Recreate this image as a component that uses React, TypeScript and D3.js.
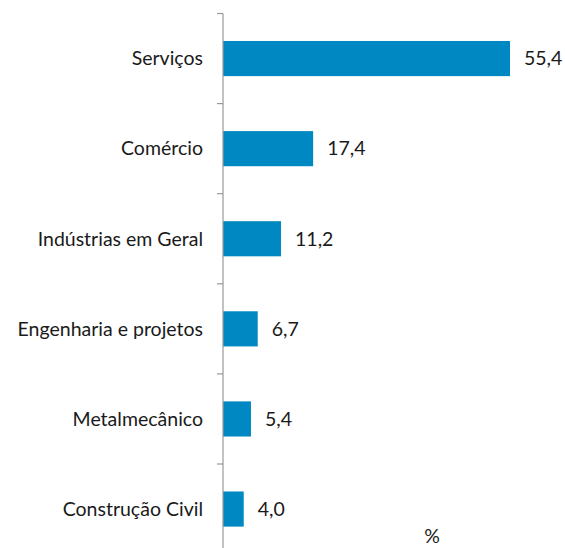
import React from "react";
import * as d3 from "d3";

const categories = ["Serviços", "Comércio", "Indústrias em Geral", "Engenharia e projetos", "Metalmecânico", "Construção Civil"];
const values = [55.4, 17.4, 11.2, 6.7, 5.4, 4.0];
const unitLabel = "%";

const W = 565;
const H = 548;
const axisX = 223;
const top = 13.5;
const bandH = 90.1;

export default function App() {
  const y = d3.scaleBand<string>().domain(categories).range([top, top + bandH * categories.length]).paddingInner(0.61).paddingOuter(0.305);
  const x = d3.scaleLinear().domain([0, 55.4]).range([axisX, 510]);
  const fmt = (v: number) => v.toFixed(1).replace(".", ",");
  const font = "Lato, 'Open Sans', sans-serif";
  const fs = 19.5;
  const ticks = d3.range(categories.length + 1).map((i) => top + i * bandH);
  return (
    <svg width={W} height={H} style={{ position: "absolute", left: 0, top: 0 }}>
      <rect width={W} height={H} fill="#fff" />
      {values.map((v, i) => (
        <rect key={i} x={x(0)} y={y(categories[i])!} width={x(v) - x(0)} height={y.bandwidth()} fill="#0088C2" />
      ))}
      <line x1={axisX} x2={axisX} y1={top} y2={top + bandH * categories.length} stroke="#999" strokeWidth={1.2} />
      {ticks.map((t, i) => (
        <line key={i} x1={axisX - 6} x2={axisX} y1={t} y2={t} stroke="#999" strokeWidth={1.2} />
      ))}
      {categories.map((c, i) => (
        <text key={c} x={203} y={y(c)! + y.bandwidth() / 2} dy="0.35em" textAnchor="end" fontFamily={font} fontSize={fs} fill="#1a1a1a">{c}</text>
      ))}
      {values.map((v, i) => (
        <text key={i} x={x(v) + 14} y={y(categories[i])! + y.bandwidth() / 2} dy="0.35em" fontFamily={font} fontSize={fs} fill="#1a1a1a">{fmt(v)}</text>
      ))}
      <text x={432} y={536} dy="0.35em" textAnchor="middle" fontFamily={font} fontSize={fs} fill="#1a1a1a">{unitLabel}</text>
    </svg>
  );
}
